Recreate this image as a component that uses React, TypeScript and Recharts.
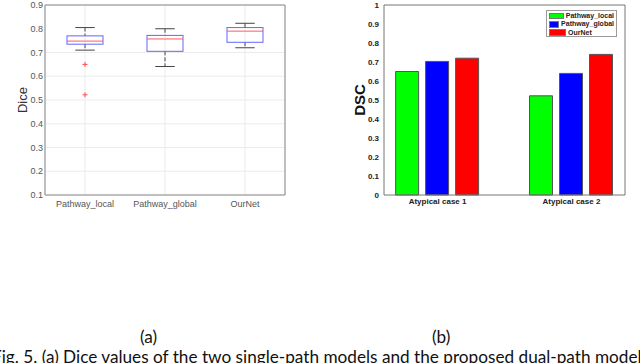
import React from 'react';
import { ComposedChart, Bar, Scatter, XAxis, YAxis, CartesianGrid, Legend } from 'recharts';

// (a) box plot values
const boxCategories = ['Pathway_local', 'Pathway_global', 'OurNet'];
const whiskerLow = [0.71, 0.641, 0.72];
const quartile1 = [0.735, 0.705, 0.743];
const medians = [0.748, 0.757, 0.79];
const quartile3 = [0.77, 0.772, 0.805];
const whiskerHigh = [0.805, 0.8, 0.823];
const outlierValues = [0.65, 0.522];
const outlierCategory = 'Pathway_local';
const diceTicks = [0.1, 0.2, 0.3, 0.4, 0.5, 0.6, 0.7, 0.8, 0.9];

// (b) bar values
const caseLabels = ['Atypical case 1', 'Atypical case 2'];
const casePositions = [1, 2];
const pathwayLocal = [0.65, 0.522];
const pathwayGlobal = [0.703, 0.64];
const ourNet = [0.72, 0.74];
const dscTicks = [0, 0.1, 0.2, 0.3, 0.4, 0.5, 0.6, 0.7, 0.8, 0.9, 1];
const seriesNames = ['Pathway_local', 'Pathway_global', 'OurNet'];
const seriesColors = ['#00ff00', '#0000ff', '#ff0000'];

const boxData = boxCategories.map((name, i) => ({
  name,
  box: [quartile1[i], quartile3[i]],
  low: whiskerLow[i],
  med: medians[i],
  high: whiskerHigh[i],
}));
const outlierData = outlierValues.map((v) => ({ name: outlierCategory, v }));
const caseData = caseLabels.map((label, i) => ({
  pos: casePositions[i],
  label,
  local: pathwayLocal[i],
  global: pathwayGlobal[i],
  ours: ourNet[i],
}));

const FONT = '"Liberation Sans", Arial, sans-serif';

// box drawn from the range bar geometry (q1..q3), whiskers scaled the same way
const BoxShape = (props: any) => {
  const { x, y, width, height, payload } = props;
  const [lo, hi] = payload.box;
  const k = height / (hi - lo);
  const toY = (v: number) => y + (hi - v) * k;
  const cx = x + width / 2;
  const cap = width * 0.27;
  return (
    <g>
      <line x1={cx} x2={cx} y1={toY(payload.high)} y2={y} stroke="#444" strokeDasharray="4 2" />
      <line x1={cx} x2={cx} y1={y + height} y2={toY(payload.low)} stroke="#444" strokeDasharray="4 2" />
      <line x1={cx - cap} x2={cx + cap} y1={toY(payload.high)} y2={toY(payload.high)} stroke="#444" />
      <line x1={cx - cap} x2={cx + cap} y1={toY(payload.low)} y2={toY(payload.low)} stroke="#444" />
      <rect x={x} y={y} width={width} height={height} fill="none" stroke="#6464ff" />
      <line x1={x} x2={x + width} y1={toY(payload.med)} y2={toY(payload.med)} stroke="#ff5a5a" />
    </g>
  );
};

const PlusShape = (props: any) => {
  const { cx, cy } = props;
  if (!isFinite(cx) || !isFinite(cy)) return null;
  return (
    <g stroke="#ff4a4a" strokeWidth={1}>
      <line x1={cx - 2.5} x2={cx + 2.5} y1={cy} y2={cy} />
      <line x1={cx} x2={cx} y1={cy - 2.5} y2={cy + 2.5} />
    </g>
  );
};

function DiceBoxChart() {
  return (
    <ComposedChart width={320} height={215} data={boxData} margin={{ top: 5, right: 35, bottom: 0, left: 0 }} style={{ fontFamily: FONT }}>
      <CartesianGrid stroke="#ebebeb" />
      <XAxis dataKey="name" allowDuplicatedCategory={false} height={20} tickLine={false} tickSize={0} tickMargin={6}
        axisLine={{ stroke: '#888' }} tick={{ fontSize: 9, fill: '#555' }} interval={0} />
      <XAxis xAxisId="top" dataKey="name" orientation="top" mirror allowDuplicatedCategory={false} tick={false}
        tickSize={3} axisLine={{ stroke: '#888' }} tickLine={{ stroke: '#888' }} />
      <YAxis domain={[0.1, 0.9]} ticks={diceTicks} width={45} tickLine={false} tickSize={0} tickMargin={2}
        axisLine={{ stroke: '#888' }} tick={{ fontSize: 9, fill: '#555' }}
        label={{ value: 'Dice', angle: -90, position: 'center', style: { fontSize: 13, fill: '#333' } }} />
      <YAxis yAxisId="right" orientation="right" mirror domain={[0.1, 0.9]} ticks={diceTicks} allowDataOverflow
        tick={false} tickSize={3} axisLine={{ stroke: '#888' }} tickLine={{ stroke: '#888' }} />
      <YAxis yAxisId="leftIn" orientation="left" mirror domain={[0.1, 0.9]} ticks={diceTicks} allowDataOverflow
        tick={false} tickSize={3} axisLine={false} tickLine={{ stroke: '#888' }} />
      <Bar dataKey="box" barSize={36} shape={<BoxShape />} isAnimationActive={false} />
      <Scatter data={outlierData} dataKey="v" shape={<PlusShape />} isAnimationActive={false} />
    </ComposedChart>
  );
}

const renderLegend = () => (
  <div style={{ border: '1px solid #9a9a9a', background: '#fff', width: 71, height: 27, boxSizing: 'border-box', padding: '1px 2px', fontFamily: FONT }}>
    {seriesNames.map((n, i) => (
      <div key={n} style={{ display: 'flex', alignItems: 'center', height: 8.3 }}>
        <span style={{ display: 'inline-block', width: 17, height: 6.5, background: seriesColors[i], border: '1px solid #777', boxSizing: 'border-box', marginRight: 2 }} />
        <span style={{ fontSize: 7, fontWeight: 'bold', color: '#222', lineHeight: '8px' }}>{n}</span>
      </div>
    ))}
  </div>
);

const DscLabel = (props: any) => {
  const { viewBox } = props;
  const x = viewBox.x + 39;
  const y = viewBox.y + viewBox.height / 2;
  return (
    <text x={x} y={y} transform={`rotate(-90, ${x}, ${y})`} textAnchor="middle" dominantBaseline="central"
      style={{ fontSize: 15, fontWeight: 'bold', fill: '#111', fontFamily: FONT }}>DSC</text>
  );
};

function DscBarChart() {
  return (
    <ComposedChart width={320} height={215} data={caseData} margin={{ top: 5, right: 15, bottom: 0, left: 0 }}
      barGap={7} style={{ fontFamily: FONT }}>
      <XAxis dataKey="pos" type="number" domain={[0.6, 2.4]} ticks={casePositions} allowDataOverflow height={20}
        tickFormatter={(v: number) => caseLabels[casePositions.indexOf(v)]} tickLine={false} tickSize={0} tickMargin={3}
        axisLine={{ stroke: '#777' }} tick={{ fontSize: 8, fontWeight: 'bold', fill: '#222' }} />
      <XAxis xAxisId="top" dataKey="pos" type="number" orientation="top" mirror domain={[0.6, 2.4]} ticks={casePositions}
        allowDataOverflow tick={false} tickSize={3} axisLine={{ stroke: '#777' }} tickLine={{ stroke: '#777' }} />
      <YAxis domain={[0, 1]} ticks={dscTicks} width={64} tickLine={false} tickSize={0} tickMargin={5}
        axisLine={{ stroke: '#777' }} tick={{ fontSize: 8, fontWeight: 'bold', fill: '#222' }} label={<DscLabel />} />
      <YAxis yAxisId="right" orientation="right" mirror domain={[0, 1]} ticks={dscTicks} allowDataOverflow
        tick={false} tickSize={3} axisLine={{ stroke: '#777' }} tickLine={{ stroke: '#777' }} />
      <Legend layout="vertical" align="center" verticalAlign="middle" content={renderLegend}
        wrapperStyle={{ top: 10, left: 226, width: 71, height: 27 }} />
      <Bar dataKey="local" name={seriesNames[0]} fill={seriesColors[0]} stroke="#555" barSize={23} isAnimationActive={false} />
      <Bar dataKey="global" name={seriesNames[1]} fill={seriesColors[1]} stroke="#555" barSize={23} isAnimationActive={false} />
      <Bar dataKey="ours" name={seriesNames[2]} fill={seriesColors[2]} stroke="#555" barSize={23} isAnimationActive={false} />
    </ComposedChart>
  );
}

export default function App() {
  const capStyle: React.CSSProperties = { position: 'absolute', fontFamily: 'Lato, "Open Sans", sans-serif', fontSize: 17.2, color: '#111', whiteSpace: 'nowrap', lineHeight: 1 };
  return (
    <div style={{ position: 'absolute', left: 0, top: 0, width: 640, height: 363, background: '#fff', overflow: 'hidden' }}>
      <div style={{ position: 'absolute', left: 0, top: 0 }}><DiceBoxChart /></div>
      <div style={{ position: 'absolute', left: 320, top: 0 }}><DscBarChart /></div>
      <div style={{ ...capStyle, left: 140, top: 328 }}>(a)</div>
      <div style={{ ...capStyle, left: 432, top: 328 }}>(b)</div>
      <div style={{ ...capStyle, left: -8, top: 348 }}>
        Fig. 5. (a) Dice values of the two single-path models and the proposed dual-path models
      </div>
    </div>
  );
}
